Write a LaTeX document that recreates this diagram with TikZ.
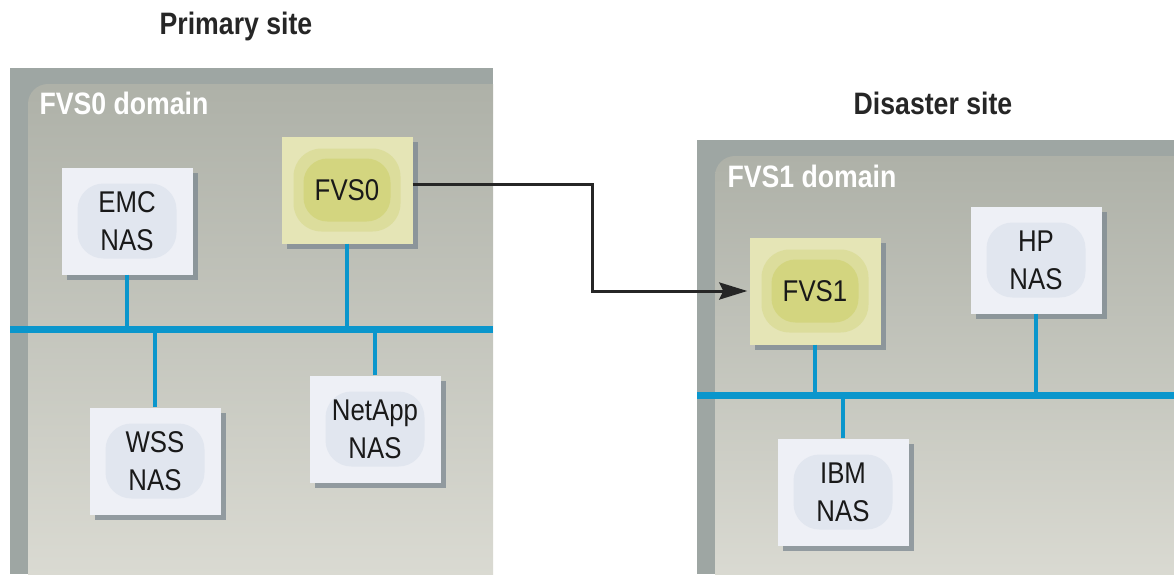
\documentclass[tikz,border=0pt]{standalone}
\usepackage{fontspec}
\setmainfont{Liberation Sans}[FakeStretch=0.86]
\usetikzlibrary{shadows,arrows.meta,positioning}

\definecolor{busblue}{HTML}{0A96CC}
\definecolor{domdark}{HTML}{9EA6A3}
\definecolor{domtop}{HTML}{AEB1A8}
\definecolor{dommid}{HTML}{CBCBC3}
\definecolor{dombot}{HTML}{DDDDD5}
\definecolor{nasface}{HTML}{EEF0F6}
\definecolor{nasglow}{HTML}{E1E6EF}
\definecolor{fvsface}{HTML}{E5E5B6}
\definecolor{fvsring}{HTML}{DCDD9C}
\definecolor{fvsglow}{HTML}{D3D57F}
\definecolor{shadegray}{HTML}{7C8891}

\tikzset{
  sitetitle/.style={font=\bfseries\fontsize{31}{36}\selectfont, text=black!85},
  domtitle/.style={anchor=west, font=\bfseries\fontsize{31}{36}\selectfont, text=white},
  box/.style={minimum width=131pt, minimum height=107pt, inner sep=0pt, align=center,
    font=\fontsize{30}{38}\selectfont, text=black!90,
    drop shadow={shadow xshift=5pt, shadow yshift=-5pt, fill=shadegray, opacity=0.75}},
  nasbox/.style={box, fill=nasface, path picture={
    \fill[nasglow, rounded corners=26pt] ([shift={(16pt,-16pt)}]path picture bounding box.north west)
      rectangle ([shift={(-16pt,16pt)}]path picture bounding box.south east);}},
  fvsbox/.style={box, fill=fvsface, path picture={
    \fill[fvsring, rounded corners=28pt] ([shift={(12pt,-12pt)}]path picture bounding box.north west)
      rectangle ([shift={(-12pt,12pt)}]path picture bounding box.south east);
    \fill[fvsglow, rounded corners=24pt] ([shift={(22pt,-22pt)}]path picture bounding box.north west)
      rectangle ([shift={(-22pt,22pt)}]path picture bounding box.south east);}},
  bus/.style={busblue, line width=7pt},
  link/.style={busblue, line width=3.5pt},
  flow/.style={black!85, line width=3pt, -{Stealth[length=28pt,width=17pt,inset=4pt]}}
}

\begin{document}
\begin{tikzpicture}[x=1pt, y=-1pt]
  \useasboundingbox (0,0) rectangle (1174,574);

  % domain backgrounds
  \fill[domdark] (10,68) rectangle (493,574);
  \begin{scope}
    \clip (10,68) rectangle (493,574);
    \shade[top color=domtop, middle color=dommid, bottom color=dombot, rounded corners=20pt]
      (28,84) rectangle (530,610);
  \end{scope}
  \fill[domdark] (697,140) rectangle (1174,574);
  \begin{scope}
    \clip (697,140) rectangle (1174,574);
    \shade[top color=domtop, middle color=dommid, bottom color=dombot, rounded corners=20pt]
      (715,156) rectangle (1210,610);
  \end{scope}

  % titles
  \node[sitetitle] (primary) at (236,26) {Primary site};
  \node[sitetitle] (disaster) at (933,103) {Disaster site};
  \node[domtitle] (dom0) at (36,103) {FVS0 domain};
  \node[domtitle] (dom1) at (724,176) {FVS1 domain};

  % buses
  \coordinate (busL) at (10,329);
  \coordinate (busR) at (697,395);
  \draw[bus] (busL) -- (493,329);
  \draw[bus] (busR) -- (1174,395);

  % file virtualization switches
  \node[fvsbox] (fvs0) at (347,190) {FVS0};
  \node[fvsbox] (fvs1) at (815,291) {FVS1};

  % NAS filers
  \foreach \nm/\px/\py/\txt in {emc/127/221/EMC, wss/155/461/WSS, netapp/375/429/NetApp,
                                hp/1036/260/HP, ibm/843/492/IBM} {
    \node[nasbox] (\nm) at (\px,\py) {\txt\\NAS};
  }

  % links to the buses
  \foreach \nm in {emc, fvs0}   \draw[link] (\nm.south) -- (\nm.south |- busL);
  \foreach \nm in {wss, netapp} \draw[link] (\nm.north) -- (\nm.north |- busL);
  \foreach \nm in {fvs1, hp}    \draw[link] (\nm.south) -- (\nm.south |- busR);
  \draw[link] (ibm.north) -- (ibm.north |- busR);

  % replication
  \draw[flow] ([yshift=6pt]fvs0.east) -- ++(180,0) |- ([xshift=-2pt]fvs1.west);
\end{tikzpicture}
\end{document}
